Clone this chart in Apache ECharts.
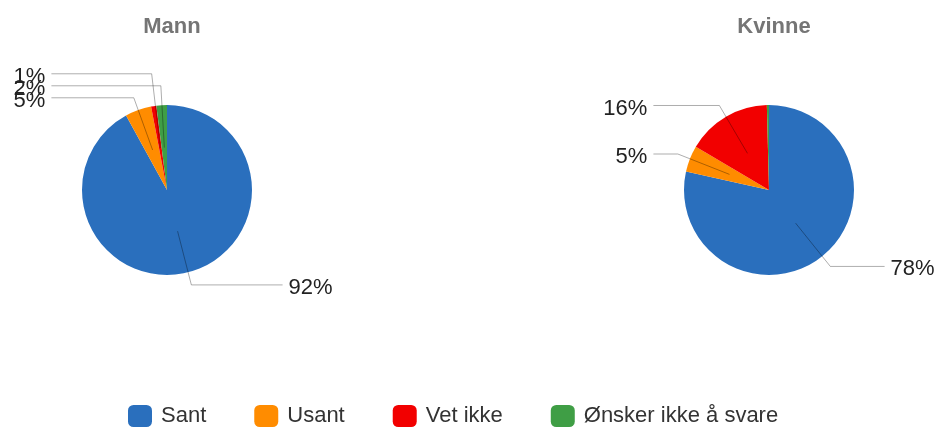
<!DOCTYPE html>
<html>
<head>
<meta charset="utf-8">
<script src="https://cdn.jsdelivr.net/npm/echarts@6/dist/echarts.min.js"></script>
<style>
html,body{margin:0;padding:0;background:#fff;}
#chart{width:938px;height:429px;}
</style>
</head>
<body>
<div id="chart"></div>
<script>
// ---- data ----
var categories = ['Sant', 'Usant', 'Vet ikke', 'Ønsker ikke å svare'];
var groupTitles = ['Mann', 'Kvinne'];
var mannValues = [92, 5, 1, 2];
var kvinneValues = [78, 5, 16, 0.4];
var colors = ['#2a6fbd', '#ff8c00', '#f20000', '#3f9e45'];

// ---- layout ----
var FONT = 'Liberation Sans, Arial, sans-serif';
var R = 85;
var centers = [[167, 190], [769, 190]];
var LABEL_GAP = 12;
var groupValues = [mannValues, kvinneValues];
var naturals = {}; // seriesIndex -> dataIndex -> natural elbow info

function buildData(values, withLabels) {
  var total = values.reduce(function (a, b) { return a + b; }, 0);
  return categories.map(function (name, i) {
    var item = { name: name, value: values[i] };
    if (!withLabels || Math.round(values[i] / total * 100) < 1) {
      item.label = { show: false };
      item.labelLine = { show: false };
    }
    return item;
  });
}

function layoutLabel(params) {
  var pts = params.labelLinePoints;
  if (!pts || pts.length < 2) return {};
  var si = params.seriesIndex, di = params.dataIndex;
  var g = si % 2;
  var c = centers[g];
  var p0 = pts[0], p1 = pts[1];
  var isLeft = p1[0] < c[0];
  naturals[si] = naturals[si] || {};
  if (!naturals[si][di]) {
    naturals[si][di] = { di: di, x: p1[0], y: p1[1], p0: p0, left: isLeft, v: groupValues[g][di] };
  }
  var me = naturals[si][di];
  // stack same-side labels: larger slices keep their natural place
  var list = [];
  for (var k in naturals[si]) if (naturals[si][k].left === me.left) list.push(naturals[si][k]);
  list.sort(function (a, b) { return b.v - a.v || a.di - b.di; });
  var ys = [], finalY = me.y;
  for (var i = 0; i < list.length; i++) {
    var y = list[i].y, moved = true, up = list[i].y <= c[1];
    while (moved) {
      moved = false;
      for (var j = 0; j < ys.length; j++) {
        if (Math.abs(ys[j] - y) < LABEL_GAP) { y = up ? ys[j] - LABEL_GAP : ys[j] + LABEL_GAP; moved = true; }
      }
    }
    ys.push(y);
    if (list[i].di === di) { finalY = y; break; }
  }
  var e = me.p0;
  var inner = [c[0] + (e[0] - c[0]) * 0.5, c[1] + (e[1] - c[1]) * 0.5];
  var endX = me.left ? c[0] - 1.36 * R : c[0] + 1.36 * R;
  return {
    x: me.left ? endX - 6 : endX + 6,
    y: finalY + 3,
    align: me.left ? 'right' : 'left',
    verticalAlign: 'middle',
    labelLinePoints: [inner, [me.x, finalY], [endX, finalY]]
  };
}

var chart = echarts.init(document.getElementById('chart'), null, { renderer: 'canvas' });

function makeSeries(idx, values, overlay) {
  return {
    type: 'pie',
    name: groupTitles[idx],
    z: overlay ? 5 : 2,
    silent: !!overlay,
    legendHoverLink: false,
    center: centers[idx],
    radius: R,
    startAngle: 90,
    clockwise: true,
    avoidLabelOverlap: false,
    data: buildData(values, overlay),
    itemStyle: overlay ? { color: 'rgba(0,0,0,0)', borderWidth: 0 } : { borderWidth: 0 },
    emphasis: { disabled: true },
    label: {
      show: !!overlay,
      position: 'outside',
      formatter: function (p) { return Math.round(p.percent) + '%'; },
      fontFamily: FONT,
      fontSize: 22,
      color: '#222',
      overflow: 'none'
    },
    labelLine: {
      show: !!overlay,
      showAbove: true,
      length: 13,
      length2: 40,
      lineStyle: { color: 'rgba(0,0,0,0.32)', width: 1 }
    },
    labelLayout: overlay ? layoutLabel : null
  };
}

var option = {
  animation: false,
  color: colors,
  title: [
    { text: groupTitles[0], left: centers[0][0], top: 11, textAlign: 'center',
      textStyle: { fontFamily: FONT, fontSize: 22, fontWeight: 'bold', color: '#757575' } },
    { text: groupTitles[1], left: centers[1][0], top: 11, textAlign: 'center',
      textStyle: { fontFamily: FONT, fontSize: 22, fontWeight: 'bold', color: '#757575' } }
  ],
  legend: {
    data: categories,
    left: 128,
    top: 405,
    itemWidth: 24,
    itemHeight: 22,
    itemGap: 48,
    icon: 'roundRect',
    padding: 0,
    textStyle: { fontFamily: FONT, fontSize: 22, color: '#333', padding: [0, 0, 0, 4] }
  },
  series: [
    makeSeries(0, mannValues, false),
    makeSeries(1, kvinneValues, false),
    makeSeries(0, mannValues, true),
    makeSeries(1, kvinneValues, true)
  ]
};

chart.setOption(option);
// second pass: every label's natural position is now known, so stacking is complete
chart.setOption(option, true);
</script>
</body>
</html>
